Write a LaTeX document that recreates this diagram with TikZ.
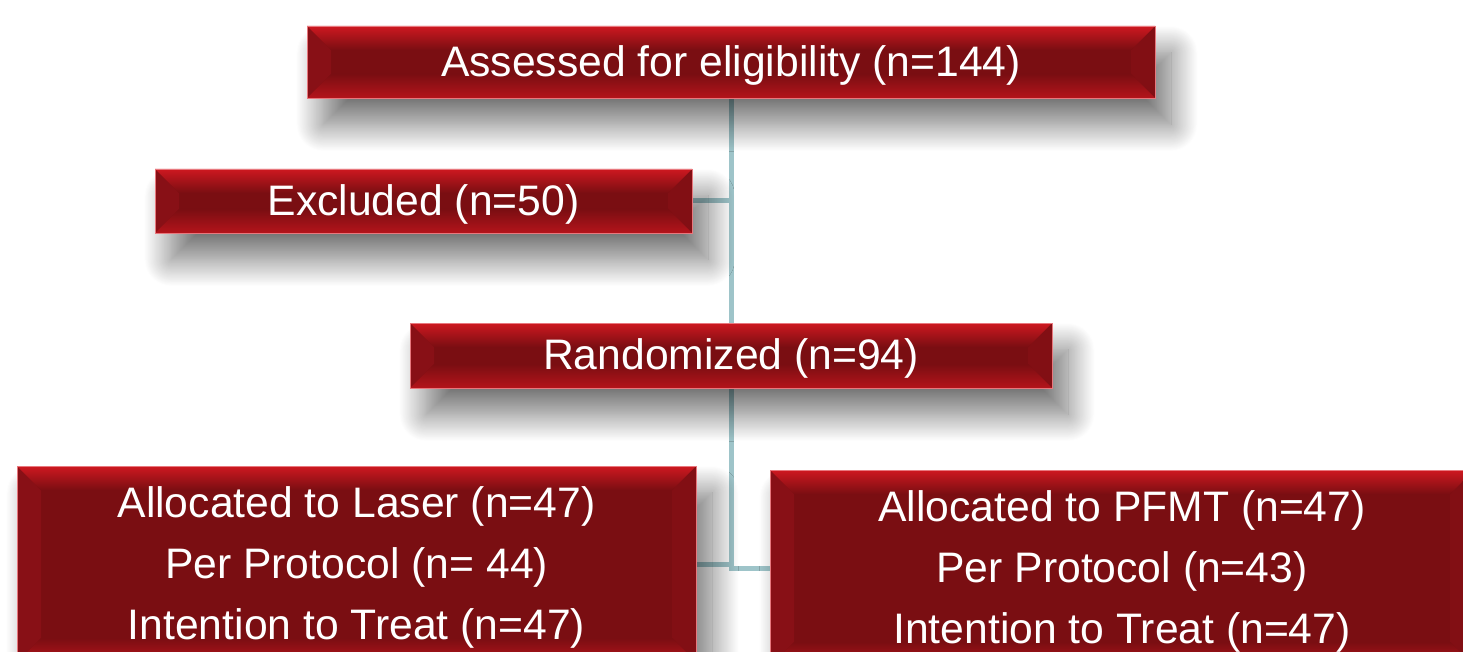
\documentclass[tikz,border=0pt]{standalone}
\usepackage{fontspec}
\setmainfont{Liberation Sans}
\usetikzlibrary{calc,backgrounds,shadows.blur}
\definecolor{boxdark}{RGB}{122,14,18}
\definecolor{boxtop}{RGB}{206,24,32}
\definecolor{boxbot}{RGB}{180,20,27}
\definecolor{boxleft}{RGB}{136,16,22}
\definecolor{boxright}{RGB}{130,15,20}
\definecolor{boxedge}{RGB}{232,120,126}
\definecolor{linkcol}{RGB}{158,196,201}
\tikzset{
  redbox/.style={rectangle, inner sep=0pt, text=white, align=center,
    font=\fontsize{32}{45.75}\selectfont, text depth=2pt,
    fill=boxdark, draw=boxedge, line width=0.5pt,
    blur shadow={shadow xshift=12pt, shadow yshift=-20pt, shadow blur radius=20pt, shadow blur steps=30, shadow opacity=55},
    path picture={
      \coordinate (bnw) at (path picture bounding box.north west);
      \coordinate (bne) at (path picture bounding box.north east);
      \coordinate (bsw) at (path picture bounding box.south west);
      \coordinate (bse) at (path picture bounding box.south east);
      \fill[boxleft] (bnw) -- ($(bnw)+(18pt,-18pt)$) -- ($(bsw)+(18pt,18pt)$) -- (bsw) -- cycle;
      \fill[boxright] (bne) -- ($(bne)+(-18pt,-18pt)$) -- ($(bse)+(-18pt,18pt)$) -- (bse) -- cycle;
      \shade[top color=boxtop, bottom color=boxdark] (bnw) -- (bne) -- ($(bne)+(-18pt,-18pt)$) -- ($(bnw)+(18pt,-18pt)$) -- cycle;
      \shade[top color=boxdark, bottom color=boxbot] (bsw) -- (bse) -- ($(bse)+(-18pt,18pt)$) -- ($(bsw)+(18pt,18pt)$) -- cycle;
    }},
  link/.style={draw=linkcol, line width=3.75pt}
}
\begin{document}
\begin{tikzpicture}[x=0.75pt,y=-0.75pt]
\useasboundingbox (0,0) rectangle (1463,652);
\node[redbox, minimum width=636pt, minimum height=54pt] (top) at (731,62) {Assessed for eligibility (n=144)};
\node[redbox, minimum width=402.75pt, minimum height=48pt] (excl) at (423.5,201) {Excluded (n=50)};
\node[redbox, minimum width=481.5pt, minimum height=48.75pt] (rand) at (731,355.5) {Randomized (n=94)};
\node[redbox, minimum width=509.25pt, minimum height=147pt] (laser) at (356.5,564) {Allocated to Laser (n=47)\\Per Protocol (n= 44)\\Intention to Treat (n=47)};
\node[redbox, minimum width=528pt, minimum height=147pt] (pfmt) at (1122,568) {Allocated to PFMT (n=47)\\Per Protocol (n=43)\\Intention to Treat (n=47)};
\begin{scope}[on background layer]
\draw[link] (top.south) -- (rand.north);
\draw[link] (excl.east) -- (excl.east -| top.south);
\draw[link] (rand.south) -- (rand.south |- pfmt.west) -- (pfmt.west);
\draw[link] (laser.east) -- (laser.east -| rand.south);
\end{scope}
\end{tikzpicture}
\end{document}
